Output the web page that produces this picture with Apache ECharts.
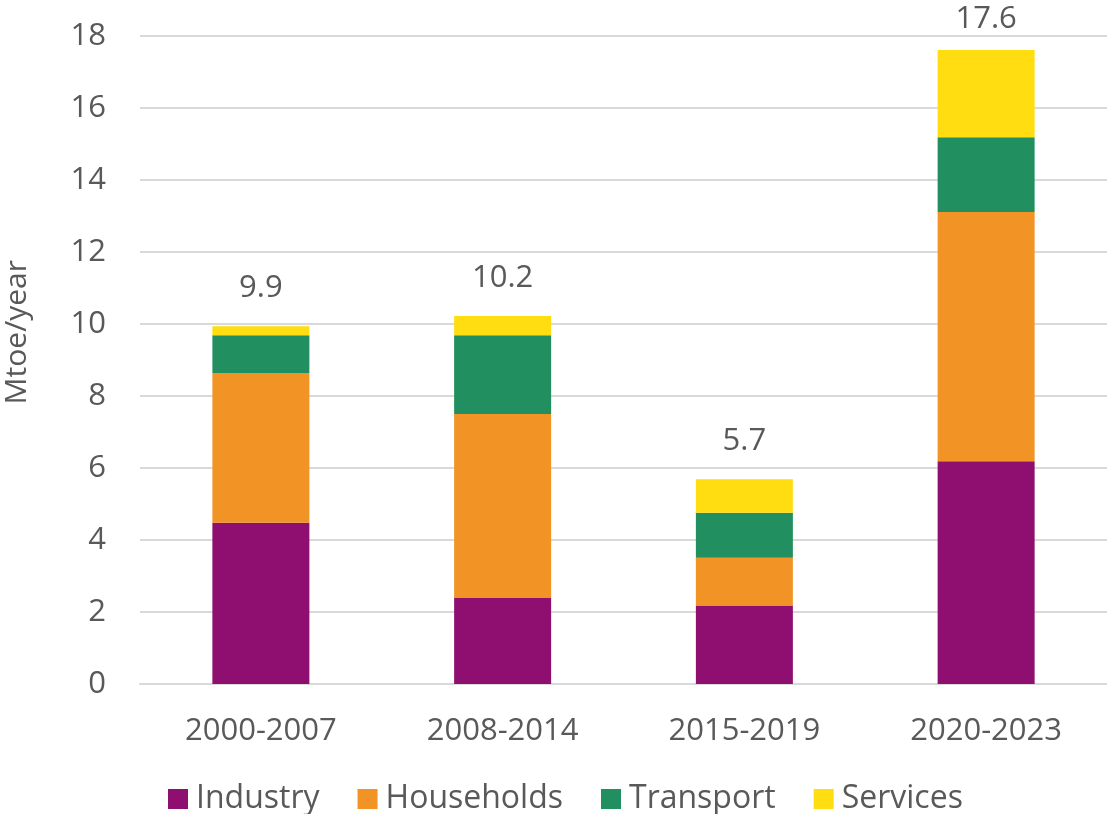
<!DOCTYPE html>
<html>
<head>
<meta charset="utf-8">
<title>Energy savings by sector</title>
<script src="https://cdn.jsdelivr.net/npm/echarts@6/dist/echarts.min.js"></script>
<style>
  html, body { margin: 0; padding: 0; background: #fff; }
  #chart { width: 1107px; height: 814px; }
</style>
</head>
<body>
<div id="chart"></div>
<script>
// periods on the x axis
var periods = ["2000-2007", "2008-2014", "2015-2019", "2020-2023"];
// Mtoe/year by sector
var industry   = [4.48, 2.39, 2.18, 6.19];
var households = [4.16, 5.11, 1.33, 6.92];
var transport  = [1.05, 2.19, 1.25, 2.08];
var services   = [0.25, 0.53, 0.93, 2.42];
var yTicks = [0, 2, 4, 6, 8, 10, 12, 14, 16, 18];

var txt = "#595959";
var font = "Open Sans";

function total(i) {
  return industry[i] + households[i] + transport[i] + services[i];
}

var chart = echarts.init(document.getElementById("chart"));

function bar(name, data, color) {
  return {
    name: name,
    type: "bar",
    stack: "all",
    barWidth: 97,
    data: data,
    itemStyle: { color: color }
  };
}

var seriesList = [
  bar("Industry", industry, "#8E0F6F"),
  bar("Households", households, "#F29326"),
  bar("Transport", transport, "#218F5F"),
  bar("Services", services, "#FFDD10")
];
// total on top of the last segment (tallest bar sits a bit closer, like the original)
seriesList[3].data = services.map(function (v, i) {
  return i === 3 ? { value: v, label: { distance: 15 } } : v;
});
seriesList[3].label = {
  show: true,
  position: "top",
  distance: 22,
  color: txt,
  fontFamily: font,
  fontSize: 31,
  formatter: function (p) { return total(p.dataIndex).toFixed(1); }
};

chart.setOption({
  animation: false,
  textStyle: { fontFamily: font },
  grid: { left: 140, right: 0, top: 36, bottom: 130 },
  legend: {
    left: 163,
    top: 778,
    itemWidth: 20,
    itemHeight: 20,
    itemGap: 38,
    icon: "rect",
    textStyle: { color: txt, fontSize: 32, fontFamily: font, padding: [0, 0, 0, 3] },
    data: ["Industry", "Households", "Transport", "Services"]
  },
  graphic: [{
    type: "text",
    left: 2,
    top: 260,
    rotation: Math.PI / 2,
    style: { text: "Mtoe/year", fill: txt, fontSize: 30, fontFamily: font }
  }],
  xAxis: {
    type: "category",
    data: periods,
    axisTick: { show: false },
    axisLine: { lineStyle: { color: "#d9d9d9", width: 2 } },
    axisLabel: { color: txt, fontSize: 31, fontFamily: font, margin: 32 }
  },
  yAxis: {
    type: "value",
    min: yTicks[0],
    max: yTicks[yTicks.length - 1],
    interval: 2,
    axisLine: { show: false },
    axisTick: { show: false },
    splitLine: { lineStyle: { color: "#d9d9d9", width: 2 } },
    axisLabel: { color: txt, fontSize: 31, fontFamily: font, margin: 34 }
  },
  series: seriesList
});
</script>
</body>
</html>
